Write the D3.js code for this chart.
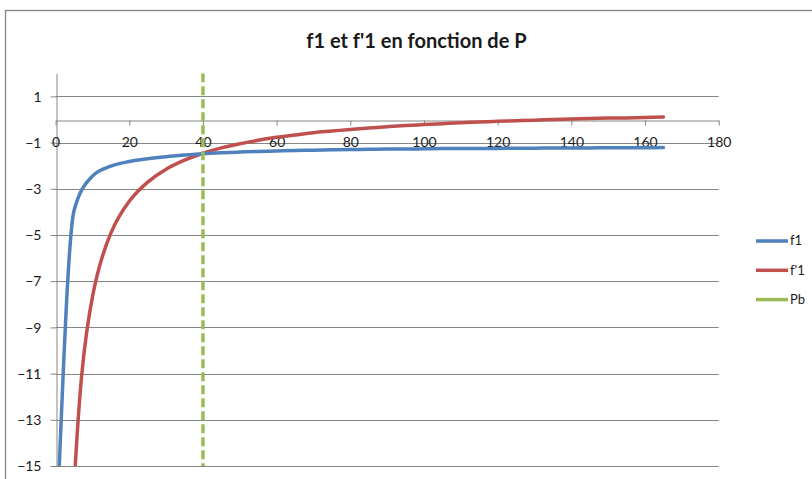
<!DOCTYPE html>
<html><head><meta charset="utf-8">
<script src="https://cdn.jsdelivr.net/npm/d3@7"></script>
<style>
html,body{margin:0;padding:0;background:#fff;}
svg{display:block;font-family:Lato,"Open Sans",sans-serif;}
</style></head>
<body>
<svg id="chart" width="812" height="479"></svg>
<script>
const P = [1,5,10,15,20,25,30,35,40,45,50,55,60,65,70,75,80,85,90,95,100,105,110,115,120,125,130,135,140,145,150,155,160,165];
const f1 = [-14.98,-3.95,-2.45,-2.02,-1.82,-1.70,-1.61,-1.54,-1.48,-1.44,-1.41,-1.38,-1.36,-1.34,-1.33,-1.31,-1.30,-1.29,-1.28,-1.28,-1.27,-1.26,-1.26,-1.25,-1.25,-1.24,-1.24,-1.23,-1.23,-1.23,-1.22,-1.22,-1.22,-1.21];
const fp1 = [-82.29,-15.97,-7.68,-4.92,-3.54,-2.71,-2.15,-1.76,-1.46,-1.23,-1.05,-0.90,-0.77,-0.67,-0.57,-0.50,-0.43,-0.37,-0.31,-0.26,-0.22,-0.18,-0.14,-0.11,-0.08,-0.05,-0.03,0.00,0.02,0.04,0.06,0.07,0.09,0.11];
const Pb = 40;
const xTicks = [0,20,40,60,80,100,120,140,160,180];
const yTicks = [-15,-13,-11,-9,-7,-5,-3,-1,1];
const title = "f1 et f'1 en fonction de P";
const seriesNames = ["f1","f'1","Pb"];
const colors = ["#4F81BD","#C0504D","#9BBB59"];

const svg = d3.select("#chart");
// chart frame
svg.append("rect").attr("x",5.5).attr("y",10.5).attr("width",830).attr("height",500)
  .attr("fill","#fff").attr("stroke","#868686").attr("stroke-width",1.3);

const x = d3.scaleLinear().domain([0,180]).range([55.6,718.7]);
const y = d3.scaleLinear().domain([-15,2]).range([466,73.3]);

// gridlines
svg.append("g").selectAll("line").data(yTicks).join("line")
  .attr("x1",x(0)).attr("x2",x(180))
  .attr("y1",d=>Math.round(y(d))+0.5).attr("y2",d=>Math.round(y(d))+0.5)
  .attr("stroke","#868686").attr("stroke-width",1);

// y axis
const ya = svg.append("g").attr("transform",`translate(${Math.round(x(0))+0.5},0)`)
  .call(d3.axisLeft(y).tickValues(yTicks).tickSizeInner(6).tickSizeOuter(0).tickPadding(9).tickFormat(d3.format("d")));
ya.select(".domain").attr("stroke","#868686");
ya.selectAll(".tick line").attr("stroke","#868686");
ya.selectAll(".tick text").attr("font-size",14).attr("fill","#1a1a1a").attr("font-family","Lato,sans-serif").attr("dy","0.34em");

// x axis at y=0
const xa = svg.append("g").attr("transform",`translate(0,${Math.round(y(0))+0.5})`)
  .call(d3.axisBottom(x).tickValues(xTicks).tickSizeInner(5).tickSizeOuter(0).tickFormat(d3.format("d")));
xa.select(".domain").attr("stroke","#868686");
xa.selectAll(".tick line").attr("stroke","#868686");
xa.selectAll(".tick text").attr("font-size",14).attr("fill","#1a1a1a").attr("font-family","Lato,sans-serif").attr("y",26).attr("dy",0);

// clip
svg.append("clipPath").attr("id","plotclip").append("rect")
  .attr("x",x(0)).attr("y",y(2)).attr("width",x(180)-x(0)).attr("height",y(-15)-y(2));

const lineBlue = d3.line().x(d=>x(d[0])).y(d=>y(d[1])).curve(d3.curveMonotoneX);
const lineRed = d3.line().x(d=>x(d[0])).y(d=>y(d[1])).curve(d3.curveCatmullRom.alpha(0.5));
const plot = svg.append("g").attr("clip-path","url(#plotclip)");

plot.append("path").datum(P.map((p,i)=>[p,fp1[i]]))
  .attr("d",lineRed).attr("fill","none").attr("stroke",colors[1]).attr("stroke-width",3.5).attr("stroke-linecap","round");
plot.append("path").datum(P.map((p,i)=>[p,f1[i]]))
  .attr("d",lineBlue).attr("fill","none").attr("stroke",colors[0]).attr("stroke-width",3.5).attr("stroke-linecap","round");
plot.append("line").attr("x1",x(Pb)).attr("x2",x(Pb)).attr("y1",y(2)).attr("y2",y(-15))
  .attr("stroke",colors[2]).attr("stroke-width",3.5).attr("stroke-dasharray","9,4");

// title
svg.append("text").attr("x",416.5).attr("y",47.5).attr("text-anchor","middle")
  .attr("font-size",20).attr("font-weight","bold").attr("fill","#1a1a1a").text(title);

// legend
const lg = svg.append("g");
seriesNames.forEach((n,i)=>{
  const yy = 241 + i*29.3;
  lg.append("line").attr("x1",756).attr("x2",788).attr("y1",yy).attr("y2",yy)
    .attr("stroke",colors[i]).attr("stroke-width",3.5);
  lg.append("text").attr("x",790).attr("y",yy).attr("dy","0.34em")
    .attr("font-size",13).attr("fill","#1a1a1a").text(n);
});
</script>
</body></html>
